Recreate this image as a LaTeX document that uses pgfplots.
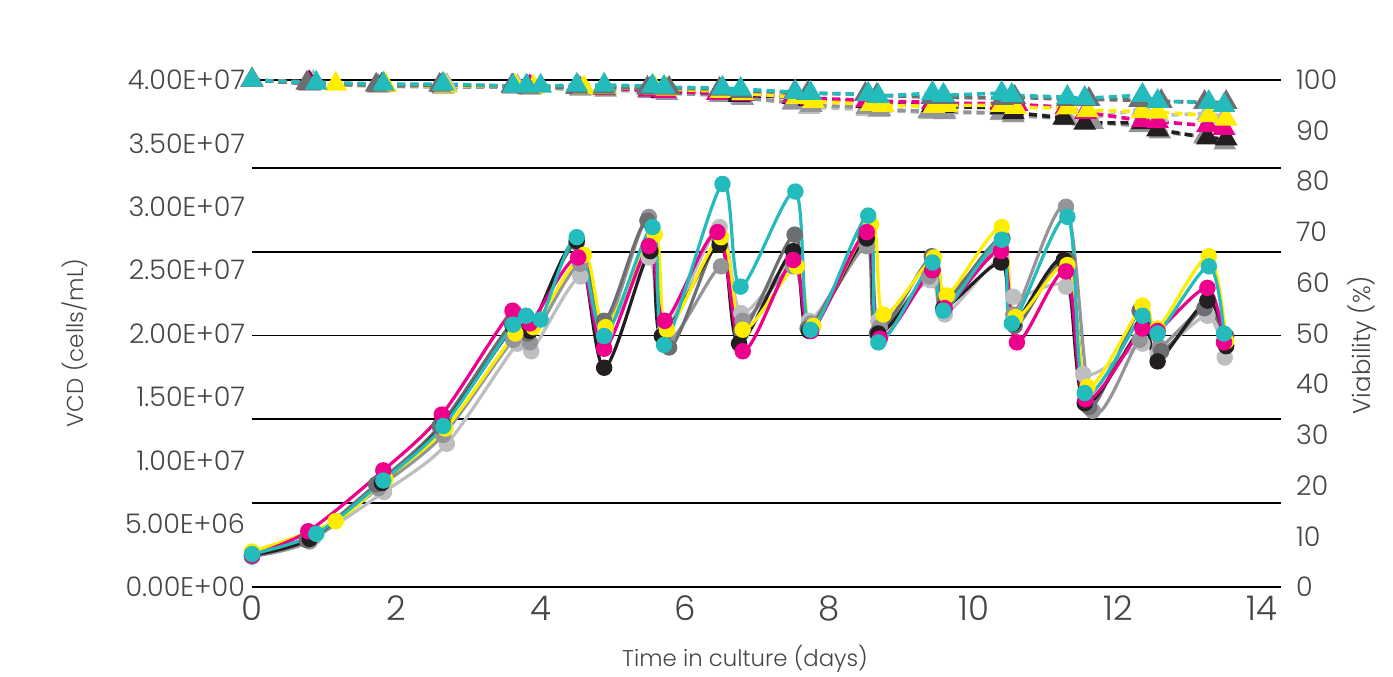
\documentclass[border=0pt]{standalone}
\usepackage{fontspec}
\setmainfont{Poppins}[UprightFont=* Light]
\usepackage{pgfplots}
\usepackage{pgfplotstable}
\pgfplotsset{compat=1.18}

\definecolor{cteal}{RGB}{35,187,187}
\definecolor{cmag}{RGB}{236,0,140}
\definecolor{cyel}{RGB}{255,237,0}
\definecolor{cblk}{RGB}{35,31,32}
\definecolor{cdg}{RGB}{109,110,113}
\definecolor{cmg}{RGB}{147,149,152}
\definecolor{clg}{RGB}{188,190,192}
\definecolor{txt}{RGB}{70,70,70}

% t = day, vcd = 1e6 cells/mL, via = viability %
\pgfplotstableread{
t vcd via
0 2.6 100
0.89 4.2 99.4
1.82 8.4 99.2
2.65 12.7 99.2
3.62 20.7 98.8
3.8 21.4 98.8
4.0 21.1 98.8
4.5 27.6 99.0
4.88 19.8 99.0
5.55 28.4 98.8
5.71 19.1 98.6
6.52 31.8 98.4
6.77 23.7 98.2
7.53 31.2 97.6
7.74 20.3 97.4
8.54 29.3 97.2
8.68 19.3 96.8
9.43 25.6 97.4
9.58 21.8 97.0
10.39 27.4 97.4
10.53 20.8 97.0
11.3 29.2 96.6
11.54 15.3 96.4
12.34 21.4 97.0
12.55 20.0 95.8
13.26 25.3 95.6
13.47 20.0 95.0
}\tteal

\pgfplotstableread{
t vcd via
0 2.5 100
0.78 4.4 99.4
1.82 9.2 99.0
2.63 13.6 98.9
3.61 21.8 98.8
3.85 20.8 98.6
4.52 26.0 98.6
4.88 18.8 98.4
5.5 26.9 98.0
5.72 21.0 97.8
6.45 28.0 97.4
6.8 18.6 97.2
7.5 25.8 96.8
7.75 20.2 96.4
8.52 28.0 96.0
8.7 19.6 95.8
9.43 25.0 95.6
9.6 22.0 95.4
10.38 26.5 95.4
10.6 19.3 95.2
11.28 24.9 94.6
11.55 14.8 93.6
12.34 20.4 92.0
12.55 20.2 91.8
13.24 23.6 91.0
13.47 19.3 90.5
}\tmag

\pgfplotstableread{
t vcd via
0 2.5 100
0.8 3.8 99.4
1.8 8.2 99.0
2.65 12.8 98.9
3.62 20.5 98.8
3.85 20.2 98.6
4.5 27.3 98.6
4.88 17.3 98.4
5.52 26.5 98.2
5.68 19.8 97.8
6.48 27.0 97.4
6.75 19.2 97.0
7.5 26.5 96.6
7.72 20.2 96.2
8.52 27.5 95.8
8.68 20.0 95.4
9.43 25.0 95.0
9.58 22.0 94.8
10.38 25.6 94.5
10.55 20.8 93.6
11.25 25.8 92.5
11.54 14.5 91.5
12.34 20.5 91.6
12.55 17.8 90.2
13.24 22.6 88.6
13.5 19.0 88.4
}\tblk

\pgfplotstableread{
t vcd via
0 2.8 100
1.16 5.2 99.2
1.85 8.5 99.0
2.68 12.5 98.8
3.65 20.0 98.8
3.9 20.5 98.6
4.6 26.2 98.5
4.9 20.5 98.5
5.58 27.8 98.4
5.75 20.3 98.2
6.5 27.6 97.8
6.8 20.3 97.4
7.55 25.3 96.6
7.78 20.6 95.8
8.58 28.6 95.2
8.75 21.5 95.0
9.45 26.0 94.8
9.63 23.0 95.0
10.39 28.4 95.0
10.58 21.3 94.6
11.3 25.4 94.5
11.58 15.8 94.0
12.34 22.2 93.8
12.55 20.4 93.7
13.26 26.1 93.0
13.5 19.4 92.3
}\tyel

\pgfplotstableread{
t vcd via
0 2.5 100
0.76 3.7 99.4
1.72 8.1 99.0
2.6 12.7 99.0
3.6 20.8 98.8
3.82 20.0 98.6
4.5 27.2 98.6
4.88 21.0 98.6
5.48 28.9 98.4
5.78 18.9 98.4
6.48 27.4 98.2
6.78 20.2 97.8
7.52 27.8 97.6
7.7 20.4 97.4
8.5 27.6 97.2
8.66 20.0 97.0
9.42 26.1 96.6
9.6 22.5 96.6
10.4 27.5 96.4
10.57 20.6 96.6
11.3 25.8 96.2
11.6 14.2 96.2
12.3 21.8 96.0
12.6 18.6 95.8
13.2 22.0 95.6
13.5 19.8 95.6
}\tdg

\pgfplotstableread{
t vcd via
0 2.4 100
0.8 3.6 99.2
1.75 7.8 98.8
2.65 12.0 98.6
3.62 19.5 98.6
3.85 19.3 98.4
4.55 25.5 98.2
4.9 20.5 98.0
5.5 29.2 97.8
5.75 19.5 97.4
6.5 25.3 97.0
6.8 21.0 96.4
7.5 25.3 95.6
7.75 20.8 95.0
8.52 26.9 94.6
8.7 20.5 94.2
9.38 24.5 93.8
9.6 22.8 93.6
10.38 26.8 93.5
10.55 21.5 93.0
11.28 30.0 92.4
11.65 13.9 91.6
12.3 19.5 91.0
12.58 18.9 89.8
13.2 22.0 88.8
13.48 19.7 87.6
}\tmg

\pgfplotstableread{
t vcd via
0 2.4 100
0.85 3.9 99.6
1.83 7.5 99.2
2.7 11.3 99.0
3.68 19.2 98.8
3.87 18.6 98.6
4.55 24.5 98.4
4.9 20.2 98.4
5.5 26.0 98.0
5.7 20.0 97.6
6.48 28.4 97.0
6.78 21.6 96.6
7.5 25.8 95.4
7.72 21.0 94.6
8.52 26.9 94.2
8.68 21.0 94.0
9.4 24.2 93.6
9.6 21.5 94.0
10.38 26.0 93.4
10.55 22.9 93.0
11.28 23.7 93.0
11.52 16.8 92.2
12.34 19.2 94.3
12.55 18.4 93.0
13.24 21.4 93.4
13.48 18.1 92.7
}\tlg

\pgfplotsset{
  vcd/.style={smooth, line width=1.6pt, mark=*, mark size=3.3pt},
  via/.style={line width=1.8pt, dash pattern=on 4pt off 2.6pt, mark=triangle*, mark size=4.8pt, mark options={solid}},
  base/.style={at={(0,0)}, anchor=south west, scale only axis,
    width=514.5pt, height=253.5pt, xmin=0, xmax=14.26,
    axis line style={draw=none}, major tick length=0pt,
    /pgf/number format/assume math mode=true,
    tick label style={text=txt}, clip=false},
}

\begin{document}
\begin{tikzpicture}
\useasboundingbox (-126pt,-44.5pt) rectangle (570.5pt,293.5pt);
\begin{axis}[base,
  ymin=0, ymax=40,
  xtick={0,2,...,14},
  xticklabel style={font=\fontsize{17}{17}\selectfont, yshift=-1pt},
  ytick={0,5,...,40},
  yticklabels={0.00E+00,5.00E+06,1.00E+07,1.50E+07,2.00E+07,2.50E+07,3.00E+07,3.50E+07,4.00E+07},
  yticklabel style={font=\fontsize{13.5}{13.5}\selectfont},
  extra y ticks={0,6.63,13.25,19.85,26.45,33.05,40},
  extra y tick labels={},
  extra y tick style={grid=major, major grid style={black, line width=0.8pt}},
]
\addplot[vcd, clg] table[x=t, y=vcd] {\tlg};
\addplot[vcd, cmg] table[x=t, y=vcd] {\tmg};
\addplot[vcd, cdg] table[x=t, y=vcd] {\tdg};
\addplot[vcd, cblk] table[x=t, y=vcd] {\tblk};
\addplot[vcd, cyel] table[x=t, y=vcd] {\tyel};
\addplot[vcd, cmag] table[x=t, y=vcd] {\tmag};
\addplot[vcd, cteal] table[x=t, y=vcd] {\tteal};
\end{axis}
\begin{axis}[base,
  ymin=0, ymax=100,
  axis x line=none,
  axis y line*=right,
  ytick={0,10,...,100},
  yticklabel style={font=\fontsize{13.5}{13.5}\selectfont, xshift=4pt},
]
\addplot[via, clg] table[x=t, y=via] {\tlg};
\addplot[via, cmg] table[x=t, y=via] {\tmg};
\addplot[via, cblk] table[x=t, y=via] {\tblk};
\addplot[via, cmag] table[x=t, y=via] {\tmag};
\addplot[via, cyel] table[x=t, y=via] {\tyel};
\addplot[via, cdg] table[x=t, y=via] {\tdg};
\addplot[via, cteal] table[x=t, y=via] {\tteal};
\end{axis}
\node[text=txt, font=\fontsize{11.4}{11.4}\selectfont] at (246.5pt,-36pt) {Time in culture (days)};
\node[text=txt, rotate=90, font=\fontsize{11.5}{11.5}\selectfont] at (-88.5pt,122pt) {VCD (cells/mL)};
\node[text=txt, rotate=90, font=\fontsize{12.2}{12.2}\selectfont] at (555pt,121pt) {Viability (\%)};
\end{tikzpicture}
\end{document}
